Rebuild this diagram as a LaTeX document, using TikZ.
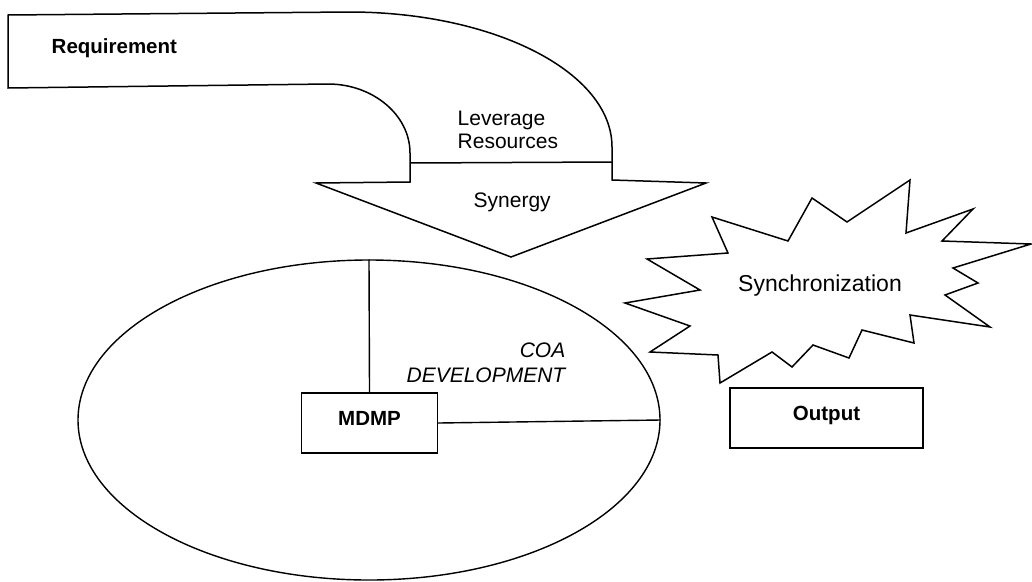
\documentclass[tikz,border=0pt]{standalone}
\usepackage{fontspec}
\setmainfont{Liberation Sans}
\usetikzlibrary{shapes.geometric}
\begin{document}
\begin{tikzpicture}[x=1pt,y=-1pt, line width=1.4pt, line join=miter,
  lbl/.style={font=\fontsize{21}{25}\selectfont, inner sep=0pt},
  blbl/.style={font=\bfseries\fontsize{20.5}{25}\selectfont, inner sep=0pt},
  ilbl/.style={font=\itshape\fontsize{21}{25}\selectfont, inner sep=0pt},
  boxnode/.style={draw, minimum width=136pt, minimum height=60pt, inner sep=0pt,
    font=\bfseries\fontsize{20.5}{25}\selectfont, text height=15pt, text depth=10pt},
  shapeline/.style={line width=1.5pt}]
\useasboundingbox (0,0) rectangle (1032,581);

% curved arrow
\draw[shapeline] (8,15) -- (349,12) .. controls (494,12) and (612,72) .. (612,147)
  -- (612,180) -- (706,183) -- (511,257) -- (316,183) -- (410,182) -- (410,153)
  .. controls (410,115) and (373,84) .. (328,84) -- (8,88) -- cycle;
\coordinate (divl) at (410,163);
\coordinate (divr) at (612,162);
\draw[shapeline] (divl) -- (divr);

\node[blbl, anchor=base west] (req) at (51,53) {Requirement};
\node[lbl, anchor=base west] (lev1) at (457,125) {Leverage};
\node[lbl, anchor=base west] (lev2) at (457,148) {Resources};
\node[lbl, anchor=base west] (syn) at (473,207) {Synergy};

% starburst
\draw[shapeline] (712,217) -- (788,241) -- (812,198) -- (847,222) -- (910,180) -- (906,233)
  -- (973,209) -- (942,241) -- (1031,244) -- (953,268) -- (978,283) -- (945,295)
  -- (990,327) -- (910,315) -- (914,343) -- (862,330) -- (849,358) -- (813,345)
  -- (792,367) -- (772,352) -- (720,383) -- (718,355) -- (650,352) -- (690,326)
  -- (625,303) -- (700,290) -- (647,259) -- (728,253) -- cycle;
\node[font=\fontsize{23}{27}\selectfont, inner sep=0pt] (sync) at (820,286) {Synchronization};

% ellipse
\node[ellipse, draw, minimum width=582pt, minimum height=320pt, inner sep=0pt] (ell) at (369,420) {};
\node[boxnode] (mdmp) at (369.5,423) {MDMP};
\draw (ell.north) -- (mdmp.north);
\draw (mdmp.east) -- (ell.east);
\node[ilbl, anchor=base east] (coa1) at (566,357) {COA};
\node[ilbl, anchor=base east] (coa2) at (566,382) {DEVELOPMENT};

% output
\node[boxnode, minimum width=193pt, minimum height=60pt] (out) at (826.5,418) {Output};
\end{tikzpicture}
\end{document}
